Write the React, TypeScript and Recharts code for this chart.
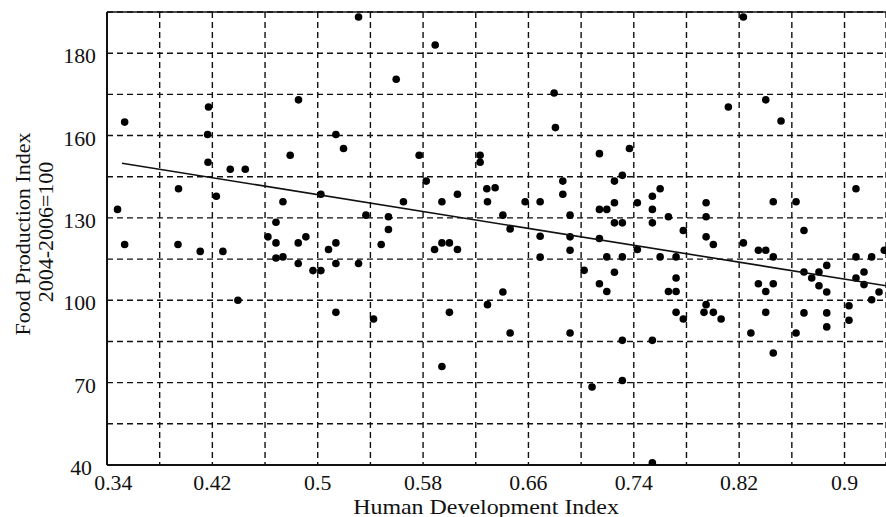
import React from "react";
import {
  ScatterChart,
  Scatter,
  XAxis,
  YAxis,
  CartesianGrid,
  ReferenceLine,
} from "recharts";

// HDI (x) vs food production index (y), one entry per country
const hdi = [
  0.3534, 0.3534, 0.348, 0.4171, 0.4164, 0.4167, 0.3943, 0.4336, 0.445, 0.423,
  0.3939, 0.4108, 0.428, 0.4394, 0.4791, 0.4854, 0.531, 0.5138, 0.5196, 0.5596,
  0.5892, 0.577, 0.6233, 0.6233, 0.5824, 0.5024, 0.4736, 0.5651, 0.5943, 0.6061,
  0.6284, 0.6347, 0.6289, 0.5366, 0.5537, 0.5537, 0.6406, 0.4683, 0.4622, 0.4683,
  0.491, 0.4852, 0.5138, 0.5082, 0.5482, 0.5887, 0.5943, 0.6, 0.6061, 0.4683,
  0.4736, 0.4852, 0.4964, 0.5024, 0.5138, 0.531, 0.6289, 0.6406, 0.5138, 0.5424,
  0.6, 0.5943, 0.8232, 0.6795, 0.8118, 0.8402, 0.6805, 0.8518, 0.7139, 0.7367,
  0.6861, 0.6861, 0.6575, 0.6689, 0.7253, 0.7313, 0.76, 0.7541, 0.7427, 0.7253,
  0.7139, 0.7195, 0.7541, 0.6916, 0.7253, 0.7313, 0.7541, 0.7663, 0.7949, 0.7949,
  0.7776, 0.8459, 0.8632, 0.9087, 0.6461, 0.6689, 0.6916, 0.7139, 0.7949, 0.8004,
  0.8232, 0.8346, 0.8402, 0.8459, 0.8692, 0.6916, 0.7427, 0.6689, 0.7195, 0.7313,
  0.76, 0.7721, 0.9302, 0.9087, 0.9206, 0.7023, 0.7253, 0.7139, 0.7195, 0.7721,
  0.7663, 0.7721, 0.8346, 0.8402, 0.8459, 0.8692, 0.8806, 0.8865, 0.8751, 0.8806,
  0.8865, 0.9087, 0.9148, 0.9148, 0.9262, 0.9206, 0.7949, 0.9034, 0.6461, 0.6916,
  0.7313, 0.7541, 0.7721, 0.7776, 0.7933, 0.8004, 0.8063, 0.8289, 0.8402, 0.8459,
  0.8632, 0.8692, 0.8865, 0.8865, 0.9034, 0.7083, 0.7313, 0.7541,
];

const food = [
  164.9, 120.3, 133.1, 170.4, 160.4, 150.3, 140.6, 147.7, 147.7, 137.9,
  120.3, 117.8, 117.8, 100.0, 152.8, 173.0, 203.2, 160.4, 155.3, 180.5,
  193.0, 152.8, 152.8, 150.3, 143.4, 138.6, 135.9, 135.9, 135.9, 138.6,
  140.6, 141.0, 135.9, 131.0, 130.4, 125.8, 131.0, 128.4, 123.1, 120.9,
  123.1, 120.9, 120.9, 118.5, 120.3, 118.5, 120.9, 120.9, 118.5, 115.4,
  115.8, 113.4, 110.8, 110.8, 113.4, 113.4, 98.4, 103.0, 95.6, 93.2,
  95.6, 75.9, 203.2, 175.5, 170.4, 173.0, 162.9, 165.3, 153.4, 155.3,
  143.4, 138.6, 135.9, 135.9, 143.4, 145.5, 140.6, 137.9, 135.5, 135.5,
  133.1, 133.1, 133.1, 131.0, 128.2, 128.2, 128.2, 130.4, 135.5, 130.4,
  125.4, 135.9, 135.9, 140.6, 126.0, 123.3, 123.1, 122.5, 123.1, 120.3,
  120.9, 118.2, 118.2, 115.8, 125.4, 118.2, 118.5, 115.7, 115.8, 115.8,
  115.8, 115.8, 118.2, 115.8, 115.8, 110.9, 110.2, 106.0, 103.2, 108.1,
  103.2, 103.2, 106.0, 103.2, 106.0, 110.3, 110.3, 112.7, 108.1, 105.3,
  103.0, 108.1, 110.3, 105.7, 103.0, 100.2, 98.4, 98.0, 88.1, 88.1,
  85.4, 85.4, 95.6, 93.2, 95.6, 95.6, 93.2, 88.1, 95.6, 80.8,
  88.1, 95.4, 95.4, 90.3, 92.7, 68.4, 70.8, 40.8,
];

// fitted trend line at both ends
const trendX = [0.3514, 0.9315];
const trendY = [149.9, 105.3];

const xTicks = [0.34, 0.38, 0.42, 0.46, 0.5, 0.54, 0.58, 0.62, 0.66, 0.7, 0.74, 0.78, 0.82, 0.86, 0.9];
const xTickText = ["0.34", "", "0.42", "", "0.5", "", "0.58", "", "0.66", "", "0.74", "", "0.82", "", "0.9"];
const yTicks = [40, 55, 70, 85, 100, 115, 130, 145, 160, 175, 190];
const yTickText = ["40", "", "70", "", "100", "", "130", "", "160", "", "180"];

const points = hdi.map((x, i) => ({ x, y: food[i] }));
const trend = trendX.map((x, i) => ({ x, y: trendY[i] }));

const FONT = '"Liberation Serif", "Times New Roman", serif';
const INK = "#111";

const XTick = (props: any) => {
  const { x, y, payload } = props;
  const i = xTicks.indexOf(payload.value);
  const text = xTickText[i];
  if (!text) return <g />;
  const dx = i === 0 ? 6.3 : 0;
  return (
    <g transform={`translate(${x + dx},${y + 25})`}>
      <text textAnchor="middle" transform="scale(1.09,1)" fontFamily={FONT} fontSize={20} fill={INK}>
        {text}
      </text>
    </g>
  );
};

const YTick = (props: any) => {
  const { x, y, payload } = props;
  const i = yTicks.indexOf(payload.value);
  const text = yTickText[i];
  if (!text) return <g />;
  const dx = i === 0 ? -4 : 0;
  return (
    <g transform={`translate(${x - 11 + dx},${y + 10})`}>
      <text textAnchor="end" transform="scale(1.09,1)" fontFamily={FONT} fontSize={20} fill={INK}>
        {text}
      </text>
    </g>
  );
};

const XTitle = () => (
  <g transform="translate(486,513.5)">
    <text textAnchor="middle" transform="scale(1.14,1)" fontFamily={FONT} fontSize={21} fill={INK}>
      Human Development Index
    </text>
  </g>
);

const YTitle = () => (
  <g>
    <text
      transform="translate(30,234) rotate(-90)"
      textAnchor="middle"
      fontFamily={FONT}
      fontSize={22}
      fill={INK}
    >
      Food Production Index
    </text>
    <text
      transform="translate(53,232) rotate(-90)"
      textAnchor="middle"
      fontFamily={FONT}
      fontSize={22}
      fill={INK}
    >
      2004-2006=100
    </text>
  </g>
);

const Dot = (props: any) => {
  const { cx, cy } = props;
  return <circle cx={cx} cy={cy} r={3.8} fill="#000" />;
};

const NoShape = () => <g />;

export default function App() {
  return (
    <div style={{ position: "absolute", left: 0, top: 0, background: "#fff" }}>
      <ScatterChart
        width={886}
        height={517}
        margin={{ top: 12, right: 0, bottom: 0, left: 0 }}
      >
        <CartesianGrid
          stroke={INK}
          strokeWidth={1.4}
          strokeDasharray="6 4"
        />
        <XAxis
          type="number"
          dataKey="x"
          domain={[0.34, 0.9315]}
          ticks={xTicks}
          allowDataOverflow
          height={52}
          tickLine={false}
          tickSize={0}
          tickMargin={0}
          axisLine={{ stroke: INK, strokeWidth: 1.8 }}
          tick={<XTick />}
          label={<XTitle />}
        />
        <YAxis
          type="number"
          dataKey="y"
          domain={[40, 205]}
          ticks={yTicks}
          allowDataOverflow
          width={107}
          tickLine={false}
          tickSize={0}
          tickMargin={0}
          axisLine={{ stroke: INK, strokeWidth: 2 }}
          tick={<YTick />}
          label={<YTitle />}
        />
        <ReferenceLine y={205} stroke={INK} strokeWidth={1.5} />
        <Scatter
          data={points}
          shape={<Dot />}
          isAnimationActive={false}
        />
        <Scatter
          data={trend}
          line={{ stroke: INK, strokeWidth: 1.6 }}
          shape={<NoShape />}
          isAnimationActive={false}
        />
      </ScatterChart>
    </div>
  );
}
